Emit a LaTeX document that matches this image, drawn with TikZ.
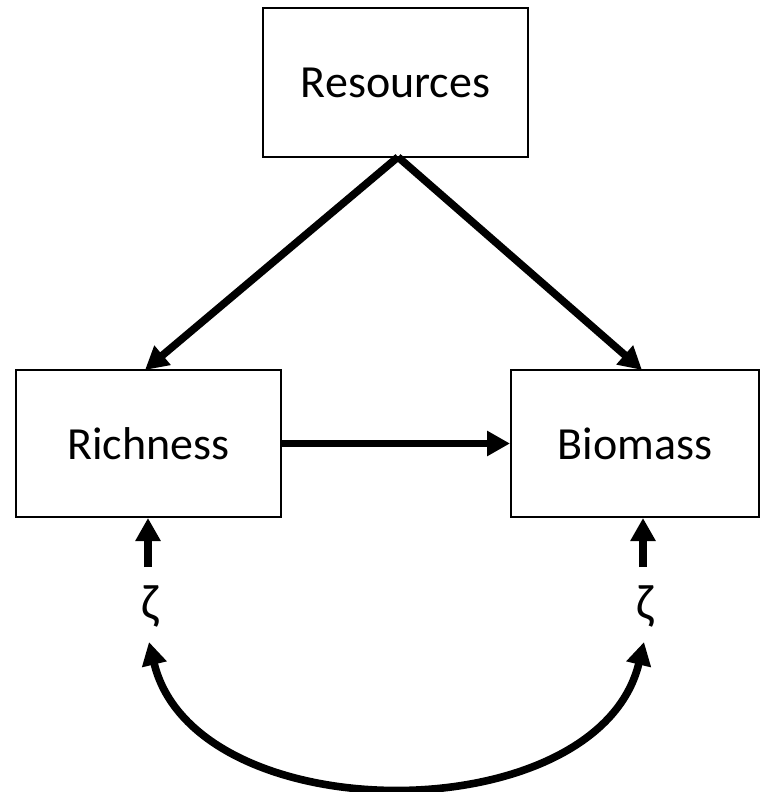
\documentclass[tikz,border=0pt]{standalone}
\usepackage{fontspec}
\setmainfont{Carlito}
\usetikzlibrary{arrows.meta}
\begin{document}
\begin{tikzpicture}[x=1pt,y=-1pt,
  box/.style={draw=black,line width=2pt,font=\fontsize{46}{50}\selectfont,inner sep=0pt},
  arr/.style={line width=7.6pt,-{Triangle[length=23pt,width=24pt]}},
  zlab/.style={font=\fontsize{50}{54}\selectfont,inner sep=0pt}]
\useasboundingbox (0,0) rectangle (761,792);
\node[box,minimum width=265pt,minimum height=149pt] (res) at (395.5,82.5) {Resources};
\node[box,minimum width=265pt,minimum height=147pt] (rich) at (148.5,443.5) {Richness};
\node[box,minimum width=248pt,minimum height=147pt] (bio) at (635,443.5) {Biomass};
\coordinate (top) at (398,157);
\draw[arr] (top) -- (145,370);
\draw[arr] (top) -- (642,370);
\draw[arr] (rich.east) -- (bio.west);
\node[zlab] (lz) at (150,607) {ζ};
\node[zlab] (rz) at (645,607) {ζ};
\coordinate (lzt) at (148,567);
\coordinate (rzt) at (643,567);
\draw[arr] (lzt) -- (lzt |- rich.south);
\draw[arr] (rzt) -- (rzt |- bio.south);
\coordinate (la) at (149,642);
\coordinate (ra) at (644,642);
\draw[line width=7.6pt,{Triangle[length=23pt,width=24pt]}-{Triangle[length=23pt,width=24pt]}] (la) .. controls (195,833) and (598,833) .. (ra);
\end{tikzpicture}
\end{document}
